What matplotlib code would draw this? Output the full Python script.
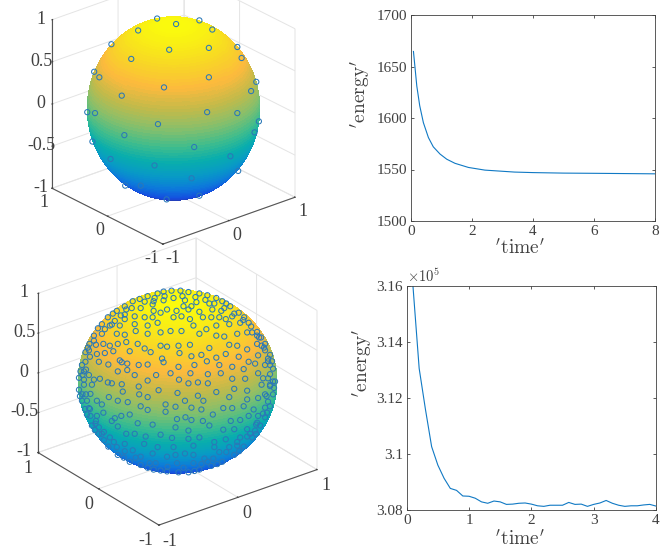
import numpy as np
import matplotlib
matplotlib.use("Agg")
import matplotlib.pyplot as plt
from matplotlib.colors import LinearSegmentedColormap
from mpl_toolkits.mplot3d import proj3d

plt.rcParams['font.family'] = ['Liberation Serif', 'DejaVu Serif']
plt.rcParams['mathtext.fontset'] = 'cm'
plt.rcParams['axes.unicode_minus'] = False

W, H = 664, 549
DARK = '#404040'
BLUE = '#1079c4'

# ---- energy curves ----
time_a = [0.09, 0.2, 0.295, 0.415, 0.58, 0.74, 0.96, 1.18, 1.45, 1.89, 2.43, 3.4, 4.0, 5.0, 6.0, 8.0]
energy_a = [1664.6, 1631, 1612, 1595.5, 1581, 1572, 1565, 1560, 1556, 1552, 1549.4, 1547.5, 1547, 1546.5, 1546.3, 1545.8]

time_b = [0.1, 0.2, 0.3, 0.4, 0.5, 0.6, 0.7, 0.8, 0.9, 1.0, 1.1, 1.2, 1.3, 1.4, 1.5, 1.6, 1.7, 1.8, 1.9, 2.0,
          2.1, 2.2, 2.3, 2.4, 2.5, 2.6, 2.7, 2.8, 2.9, 3.0, 3.1, 3.2, 3.3, 3.4, 3.5, 3.6, 3.7, 3.8, 3.9, 4.0]
energy_b = [3.160, 3.1305, 3.116, 3.1026, 3.096, 3.0913, 3.0877, 3.087, 3.085, 3.0849, 3.0842, 3.0829, 3.0824,
            3.0832, 3.0829, 3.082, 3.0821, 3.0824, 3.0825, 3.0821, 3.0815, 3.0813, 3.0817, 3.0817, 3.0817, 3.0827,
            3.082, 3.0821, 3.0813, 3.082, 3.0825, 3.0834, 3.0824, 3.0817, 3.0813, 3.0815, 3.0815, 3.0818, 3.082, 3.0814]

# ---- sphere points, in view-plane units of the sphere ----
few_u = [-.19,.03,.30,.45,-.41,-.72,-.05,.41,.74,.79,-.49,-.92,-.86,.41,-.11,.96,.90,-.60,-1.0,-.91,.39,.74,.99,-.18,.94,-.57,-.94,.24,.66,-.73,-.22,.75,.21,-.56,-.38,-.08,.30]
few_v = [.98,.92,.96,.86,.85,.70,.64,.66,.67,.55,.54,.40,.34,.34,.23,.29,.19,.14,-.04,-.05,-.04,-.05,-.14,-.17,-.26,-.29,-.36,-.42,-.52,-.55,-.62,-.68,-.76,-.84,-.84,-.99,-.95]

many_uv_rows = [
 (-.20,.96),(-.14,.98),(-.06,.99),(.03,.99),(.11,.975),(.22,.96),(.30,.94),(.39,.91),(-.30,.93),(-.38,.90),(-.45,.875),(-.53,.82),(-.61,.77),(-.70,.70),(-.76,.625),(-.84,.50),(-.885,.41),(-.925,.32),(-.96,.18),(-.99,.04),(-.99,-.09),(-.96,-.21),(-.91,-.36),(-.86,-.48),(-.79,-.57),(-.695,-.71),(-.60,-.80),(-.48,-.875),(-.37,-.91),(-.24,-.96),(-.105,-.98),(.01,-.99),(.11,-.99),(.22,-.96),(.34,-.92),(.45,-.875),(.57,-.80),(.665,-.71),(.75,-.61),(.83,-.48),(.88,-.39),(.93,-.27),(.96,-.14),(.98,0),(.96,.14),(.93,.29),(.88,.41),(.80,.54),(.715,.64),(.615,.75),(.53,.82),(.45,.875),
 (-.24,.875),(-.14,.885),(-.04,.91),(.075,.885),(.19,.865),(.32,.85),
 (-.515,.785),(-.37,.80),(-.24,.77),(-.105,.785),(-.01,.77),(.11,.785),(.22,.76),(.34,.70),(.44,.77),(.55,.71),
 (-.63,.66),(-.53,.68),(-.43,.625),(-.33,.70),(-.20,.64),(-.04,.70),(.125,.68),(.39,.61),(.52,.625),(.63,.64),(.75,.535),
 (-.73,.57),(-.61,.52),(-.53,.51),(-.42,.55),(-.30,.52),(-.17,.535),(-.07,.55),(.04,.55),(.16,.61),(.29,.57),(.47,.49),(.60,.52),(.70,.535),(.80,.50),
 (-.84,.445),(-.745,.41),(-.68,.39),(-.60,.41),(-.515,.43),(-.40,.41),(-.33,.36),(-.17,.39),(-.105,.38),(.01,.39),(.125,.40),(.24,.29),(.32,.365),(.52,.40),(.60,.39),(.70,.35),(.80,.41),(.88,.34),
 (-.89,.34),(-.81,.30),(-.73,.31),(-.645,.33),(-.48,.33),(-.155,.25),(.02,.31),(.14,.275),(.39,.26),(.485,.30),(.615,.27),(.715,.215),(.81,.285),(.91,.25),
 (-.925,.215),(-.79,.215),(-.695,.185),(-.58,.23),(-.505,.195),(-.39,.18),(-.30,.185),(-.14,.21),(.01,.16),(.17,.18),(.295,.22),(.42,.18),(.55,.16),(.665,.135),(.78,.195),(.93,.18),
 (-.955,.07),(-.84,.02),(-.78,.03),(-.70,-.01),(-.60,.11),(-.505,.125),(-.43,.07),(-.30,.01),(-.215,.07),(-.07,.09),(.13,.09),(.305,.08),(.435,.09),(.55,.03),(.68,.03),(.81,.09),(.91,.035),
 (-.94,-.035),(-.86,-.035),(-.66,-.02),(-.56,-.03),(-.39,-.055),(-.19,-.095),(.015,.02),(.11,-.02),(.205,-.01),(.305,-.02),(.39,-.115),(.57,-.08),(.70,-.10),(.845,-.035),(.96,0),
 (-.955,-.14),(-.875,-.135),(-.69,-.17),(-.55,-.11),(-.60,-.21),(-.385,-.14),(-.30,-.17),(0,-.125),(.205,-.155),(.26,-.21),(.52,-.17),(.70,-.195),(.81,-.18),(.895,-.16),
 (-.91,-.21),(-.81,-.21),(-.76,-.25),(-.50,-.225),(-.37,-.27),(-.12,-.25),(-.02,-.275),(.075,-.21),(.14,-.285),(.24,-.305),(.46,-.29),(.55,-.29),(.665,-.27),(.765,-.305),(.88,-.285),
 (-.875,-.375),(-.81,-.375),(-.745,-.34),(-.63,-.40),(-.565,-.375),(-.48,-.36),(-.30,-.31),(-.12,-.33),(-.005,-.41),(.08,-.39),(.14,-.42),(.255,-.43),(.355,-.36),(.535,-.43),(.63,-.42),(.715,-.375),(.81,-.375),
 (-.79,-.50),(-.66,-.43),(-.60,-.49),(-.40,-.455),(-.25,-.47),(-.02,-.50),(.11,-.535),(.32,-.48),(.46,-.525),(.57,-.52),(.70,-.52),(.78,-.535),
 (-.68,-.61),(-.515,-.57),(-.43,-.57),(-.32,-.60),(-.17,-.58),(-.055,-.615),(.11,-.625),(.22,-.61),(.37,-.66),(.485,-.63),(.63,-.61),(.73,-.57),
 (-.61,-.715),(-.53,-.68),(-.335,-.68),(-.20,-.715),(-.04,-.715),(.075,-.785),(.16,-.70),(.37,-.715),(.52,-.715),(.60,-.66),
 (-.45,-.75),(-.37,-.82),(-.25,-.785),(-.105,-.82),(-.02,-.80),(.16,-.80),(.27,-.84),(.42,-.77),
 (-.22,-.89),(-.005,-.89),(.16,-.89),(.305,-.875),
 (-.13,.93),(.05,.93),(.18,.92),(.28,.89),(.37,.85),(.47,.80),(.57,.74),(.66,.67),(.74,.60),(.82,.48),(.87,.37),(.91,.22),(.93,.08),(.93,-.05),(.91,-.22),(.86,-.35),(.79,-.47),(.70,-.60),(.60,-.70),(.49,-.77),(.36,-.84),(.24,-.90),(.06,-.94),(-.10,-.93),(-.28,-.89),(-.42,-.83),(-.53,-.76),(-.64,-.66),(-.74,-.55),(-.82,-.43),(-.88,-.30),(-.92,-.14),(-.94,.02),(-.92,.13),(-.88,.27),(-.82,.40),(-.76,.52),(-.66,.62),(-.57,.72),(-.46,.80),(-.33,.87),(-.23,.91),
 (-.25,.84),(.06,.82),(.14,.82),(.35,.785),(-.17,.75),(.04,.71),(-.25,.70),(.255,.70),(.42,.70),(-.43,.71),(-.53,.73),(.485,.68),(-.68,.61),(-.58,.61),(-.30,.61),(.22,.52),(.39,.50),(-.27,.32),(-.56,.21),(-.94,.11),(-.89,.07),(.86,.035),(.88,.18),(.845,.39),(-.89,-.29),(-.825,-.46),(-.76,-.57),(.88,-.14),(.93,-.035),(.80,-.45),
 (-.65,.74),(-.80,.58),(-.90,.37),(-.975,.11),(-.98,-.16),(-.93,-.30),(-.83,-.53),(-.74,-.64),(-.54,-.83),(-.30,-.94),(-.17,-.97),(.17,-.975),(.40,-.90),(.62,-.76),(.79,-.57),(.90,-.34),(.97,-.07),(.95,.22),(.84,.48),(.67,.70),(.49,.85),
]
many_u = [p[0] for p in many_uv_rows]
many_v = [p[1] for p in many_uv_rows]

parula = LinearSegmentedColormap.from_list('parula_like', [
    (0.21, 0.17, 0.53), (0.08, 0.30, 0.88), (0.05, 0.47, 0.86), (0.03, 0.60, 0.78), (0.03, 0.68, 0.68),
    (0.25, 0.74, 0.55), (0.53, 0.75, 0.42), (0.76, 0.73, 0.29), (0.99, 0.73, 0.24), (0.97, 0.85, 0.14), (0.98, 0.98, 0.05)])


def view_to_data(u, v, azim, elev, zratio):
    u, v = np.asarray(u, float), np.asarray(v, float)
    w = np.sqrt(np.clip(1 - u**2 - v**2, 0, None))
    az, el = np.radians(azim), np.radians(elev)
    a = np.array([-np.sin(az), np.cos(az), 0.0])
    b = np.array([-np.sin(el)*np.cos(az), -np.sin(el)*np.sin(az), zratio*np.cos(el)])
    b = b/np.linalg.norm(b)
    c = np.cross(a, b)
    return (np.outer(u, a) + np.outer(v, b) + np.outer(w, c)).T


def sphere_panel(fig, u, v, azim, elev, zratio, center, width, pad_xy, pad_z):
    ax = fig.add_axes([0.1, 0.1, 0.6, 0.6*W/H], projection='3d', computed_zorder=False, proj_type='ortho')
    ax.view_init(elev=elev, azim=azim)
    ax.set_box_aspect((1, 1, zratio))
    ax.set_xlim(-1, 1); ax.set_ylim(-1, 1); ax.set_zlim(-1, 1)
    ax.patch.set_alpha(0)
    th = np.linspace(0, np.pi, 90)
    ph = np.linspace(0, 2*np.pi, 160)
    X = np.outer(np.sin(th), np.cos(ph)); Y = np.outer(np.sin(th), np.sin(ph)); Z = np.outer(np.cos(th), np.ones_like(ph))
    ax.plot_surface(X, Y, Z, facecolors=parula((Z+1)/2), rstride=1, cstride=1, shade=False,
                    linewidth=0, antialiased=False, zorder=1)
    px, py, pz = view_to_data(u, v, azim, elev, zratio)
    ax.scatter(px, py, pz, s=14, facecolors='none', edgecolors='#2a78b8', linewidths=0.75, depthshade=False, zorder=2)

    ax.set_xticks([-1, 0, 1]); ax.set_yticks([-1, 0, 1]); ax.set_zticks([-1, -0.5, 0, 0.5, 1])
    ax.set_xticklabels(['-1', '0', '1'], ha='left')
    ax.set_yticklabels(['-1', '0', '1'], ha='right')
    ax.set_zticklabels(['-1', '-0.5', '0', '0.5', '1'], va='center')
    for axis in (ax.xaxis, ax.yaxis, ax.zaxis):
        axis.set_pane_color((1, 1, 1, 0))
        axis.pane.set_edgecolor('#e2e2e2')
        axis.line.set_color('#555555')
        axis.line.set_linewidth(0.8)
        axis._axinfo['grid'].update(color='#e4e4e4', linewidth=0.7)
        axis._axinfo['tick'].update(inward_factor=0.0, outward_factor=0.06)
        for t in axis.get_ticklines():
            t.set_color('#555555')
    ax.tick_params(axis='both', labelsize=13, labelcolor=DARK, colors=DARK, pad=pad_xy)
    ax.tick_params(axis='z', labelsize=13, labelcolor=DARK, colors=DARK, pad=pad_z)
    ax.zaxis.set_ticks_position('upper')

    # place the box so that its floor spans the wanted width and its middle sits at the wanted centre
    for _ in range(3):
        fig.canvas.draw()
        M = ax.get_proj()
        xs = np.array([-1, 1, -1, 1, -1, 1, -1, 1.]); ys = np.array([-1, -1, 1, 1, -1, -1, 1, 1.]); zs = np.array([-1, -1, -1, -1, 1, 1, 1, 1.])
        a, b, _z = proj3d.proj_transform(xs, ys, zs, M)
        d = ax.transData.transform(np.c_[a, b])
        cur_w = d[:, 0].max() - d[:, 0].min()
        cx, cy = d[:, 0].mean(), d[:, 1].mean()
        pos = ax.get_position(original=True)
        f = width/cur_w
        ax_cx = (pos.x0 + pos.width/2)*W; ax_cy = (pos.y0 + pos.height/2)*H
        new_cx = center[0] - (cx - ax_cx)*f
        new_cy = (H - center[1]) - (cy - ax_cy)*f
        nw, nh = pos.width*f, pos.height*f
        ax.set_position([new_cx/W - nw/2, new_cy/H - nh/2, nw, nh])
    return ax


def line_panel(fig, box, t, e, xlim, ylim, xticks, yticks, ylabels, xlab_xy, ylab_xy):
    l, r, top, bot = box
    ax = fig.add_axes([l/W, 1-bot/H, (r-l)/W, (bot-top)/H])
    ax.plot(t, e, color=BLUE, lw=0.8)
    ax.set_xlim(xlim); ax.set_ylim(ylim)
    ax.set_xticks(xticks); ax.set_yticks(yticks)
    ax.set_yticklabels(ylabels)
    ax.tick_params(direction='in', length=2.5, width=0.6, top=True, right=True, colors=DARK, labelsize=11, pad=2.5)
    ax.tick_params(axis='x', pad=3)
    for s in ax.spines.values():
        s.set_color(DARK); s.set_linewidth(0.6)
    ax.set_xlabel(r"$'\mathrm{time}'$", fontsize=14, color=DARK, va='center', ha='center')
    ax.set_ylabel(r"$'\mathrm{energy}'$", fontsize=14, color=DARK, va='center', ha='center')
    ax.xaxis.set_label_coords(*xlab_xy)
    ax.yaxis.set_label_coords(*ylab_xy)
    return ax


fig = plt.figure(figsize=(W/100, H/100), dpi=100)
sphere_panel(fig, few_u, few_v, -130, 25, 1.078, (173.5, 108.5), 243, -5, -3)
sphere_panel(fig, many_u, many_v, -127.4, 27.3, 0.90, (177.5, 381.5), 279, -4, -2)
line_panel(fig, (410.7, 655, 15, 221), time_a, energy_a, (0, 8), (1500, 1700),
           [0, 2, 4, 6, 8], [1500, 1550, 1600, 1650, 1700], ['1500', '1550', '1600', '1650', '1700'],
           (0.449, -0.131), (-0.208, 0.617))
axb = line_panel(fig, (406.7, 656, 285.7, 510), time_b, np.array(energy_b)*1e5, (0, 4), (3.08e5, 3.16e5),
           [0, 1, 2, 3, 4], [3.08e5, 3.10e5, 3.12e5, 3.14e5, 3.16e5], ['3.08', '3.1', '3.12', '3.14', '3.16'],
           (0.4545, -0.13), (-0.18, 0.655))
axb.text(0.0, 1.005, r"$\times 10^{5}$", transform=axb.transAxes, fontsize=10.5, color=DARK, va='bottom', ha='left')
fig.savefig('out.png', dpi=100)
